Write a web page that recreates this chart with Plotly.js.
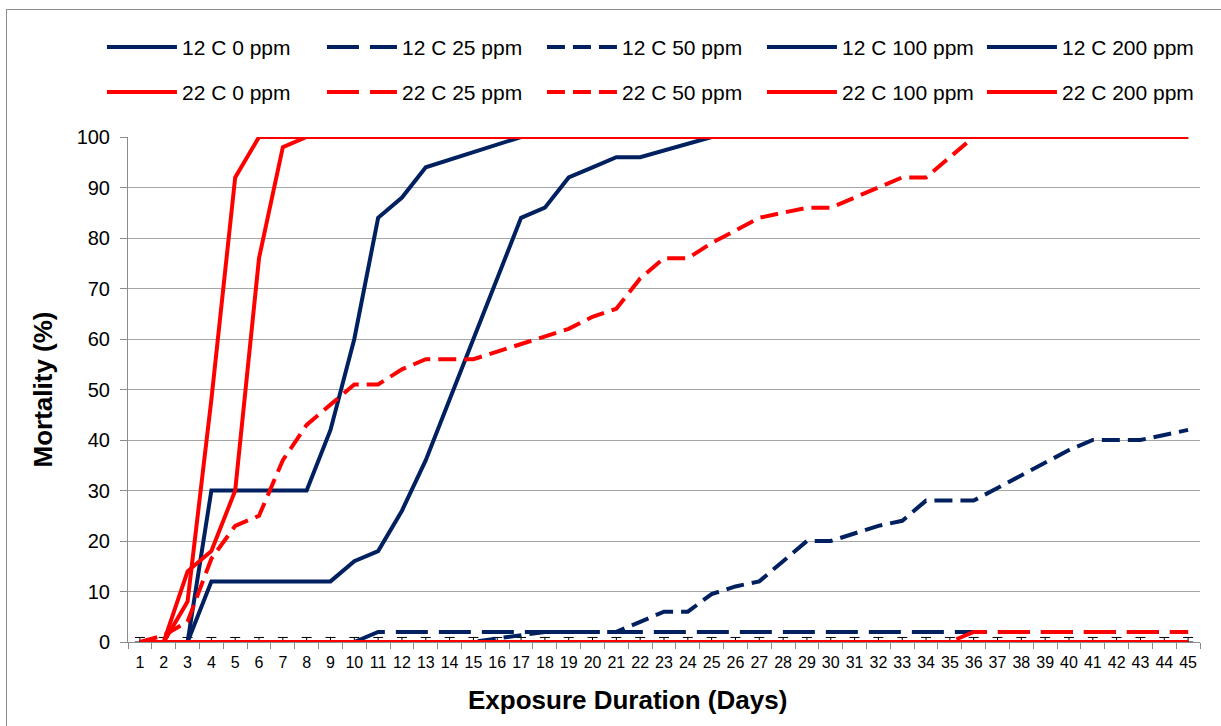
<!DOCTYPE html>
<html>
<head>
<meta charset="utf-8">
<script src="https://cdn.plot.ly/plotly-3.0.1.min.js"></script>
<style>
  html, body { margin: 0; padding: 0; background: #fff; }
  #frame { position: absolute; left: 6px; top: 9px; width: 1240px; height: 740px;
           border-left: 1px solid #8c8c8c; border-top: 1px solid #8c8c8c; pointer-events: none; }
  #chart { position: absolute; left: 0; top: 0; width: 1221px; height: 726px; }
</style>
</head>
<body>
<div id="chart"></div>
<div id="frame"></div>
<script>
// ---- data ----
const days = [1,2,3,4,5,6,7,8,9,10,11,12,13,14,15,16,17,18,19,20,21,22,23,24,25,26,27,28,29,30,31,32,33,34,35,36,37,38,39,40,41,42,43,44,45];
const dayLabels = ["1","2","3","4","5","6","7","8","9","10","11","12","13","14","15","16","17","18","19","20","21","22","23","24","25","26","27","28","29","30","31","32","33","34","35","36","37","38","39","40","41","42","43","44","45"];

const c12_0   = [0,0,0,0,0,0,0,0,0,0,0,0,0,0,0,0,0,0,0,0,0,0,0,0,0,0,0,0,0,0,0,0,0,0,0,0,0,0,0,0,0,0,0,0,0];
const c12_25  = [0,0,0,0,0,0,0,0,0,0,2,2,2,2,2,2,2,2,2,2,2,2,2,2,2,2,2,2,2,2,2,2,2,2,2,2,2,2,2,2,2,2,2,2,2];
const c12_50  = [0,0,0,0,0,0,0,0,0,0,0,0,0,0,0,0.7,1.3,2,2,2,2,4,6,6,9.5,11,12,16,20,20,21.5,23,24,28,28,28,30.5,33,35.5,38,40,40,40,41,42];
const c12_100 = [0,0,0,12,12,12,12,12,12,16,18,26,36,48,60,72,84,86,92,94,96,96,97.3,98.7,100,100,100,100,100,100,100,100,100,100,100,100,100,100,100,100,100,100,100,100,100];
const c12_200 = [0,0,0,30,30,30,30,30,42,60,84,88,94,95.5,97,98.5,100,100,100,100,100,100,100,100,100,100,100,100,100,100,100,100,100,100,100,100,100,100,100,100,100,100,100,100,100];

const c22_0   = [0,0,0,0,0,0,0,0,0,0,0,0,0,0,0,0,0,0,0,0,0,0,0,0,0,0,0,0,0,0,0,0,0,0,0,0,0,0,0,0,0,0,0,0,0];
const c22_25  = [0,0,0,0,0,0,0,0,0,0,0,0,0,0,0,0,0,0,0,0,0,0,0,0,0,0,0,0,0,0,0,0,0,0,0,2,2,2,2,2,2,2,2,2,2];
const c22_50  = [0,1.3,4,16.5,23,25,36,43,47,51,51,54,56,56,56,57.5,59,60.5,62,64.4,66,72,76,76,79,81.5,84,85,86,86,88,90,92,92,96,100,100,100,100,100,100,100,100,100,100];
const c22_100 = [0,0,14,18,30,76,98,100,100,100,100,100,100,100,100,100,100,100,100,100,100,100,100,100,100,100,100,100,100,100,100,100,100,100,100,100,100,100,100,100,100,100,100,100,100];
const c22_200 = [0,0,8,48,92,100,100,100,100,100,100,100,100,100,100,100,100,100,100,100,100,100,100,100,100,100,100,100,100,100,100,100,100,100,100,100,100,100,100,100,100,100,100,100,100];

const errUp   = [0.9,0.9,0.9,0.9,0.9,0.9,0.9,0.9,0.9,0.9,0.9,0.9,0.9,0.9,0.9,0.9,0.9,0.9,0.9,0.9,0.9,0.9,0.9,0.9,0.9,0.9,0.9,0.9,0.9,0.9,0.9,0.9,0.9,0.9,0.9,0.9,0.9,0.9,0.9,0.9,0.9,0.9,0.9,0.9,0.9];
const errDown = [0,0,0,0,0,0,0,0,0,0,0,0,0,0,0,0,0,0,0,0,0,0,0,0,0,0,0,0,0,0,0,0,0,0,0,0,0,0,0,0,0,0,0,0,0];

const yTicks = [0,10,20,30,40,50,60,70,80,90,100];
const bounds = [0.5,1.5,2.5,3.5,4.5,5.5,6.5,7.5,8.5,9.5,10.5,11.5,12.5,13.5,14.5,15.5,16.5,17.5,18.5,19.5,20.5,21.5,22.5,23.5,24.5,25.5,26.5,27.5,28.5,29.5,30.5,31.5,32.5,33.5,34.5,35.5,36.5,37.5,38.5,39.5,40.5,41.5,42.5,43.5,44.5,45.5];

const xTitle = 'Exposure Duration (Days)';
const yTitle = 'Mortality (%)';

// ---- styles ----
const NAVY = '#002060', RED = '#ff0000';
const LW = 4;
const LONG = '32px,11px', SHORT = '18px,8px';
const FONT = 'Liberation Sans, Arial, sans-serif';

function tr(name, y, color, dash, legend, extra) {
  return Object.assign({
    type: 'scatter', mode: 'lines', name: name, x: days, y: y,
    line: {color: color, width: LW, dash: dash},
    legend: legend, hoverinfo: 'x+y+name'
  }, extra || {});
}

const data = [
  tr('12 C 0 ppm', c12_0, NAVY, 'solid', 'legend', {
    error_y: {type: 'data', symmetric: false, array: errUp, arrayminus: errDown,
              color: '#000', thickness: 1, width: 5}
  }),
  tr('12 C 25 ppm', c12_25, NAVY, LONG, 'legend'),
  tr('12 C 50 ppm', c12_50, NAVY, SHORT, 'legend'),
  tr('12 C 100 ppm', c12_100, NAVY, 'solid', 'legend'),
  tr('12 C 200 ppm', c12_200, NAVY, 'solid', 'legend'),
  tr('22 C 0 ppm', c22_0, RED, 'solid', 'legend2'),
  tr('22 C 25 ppm', c22_25, RED, LONG, 'legend2'),
  tr('22 C 50 ppm', c22_50, RED, SHORT, 'legend2'),
  tr('22 C 100 ppm', c22_100, RED, 'solid', 'legend2'),
  tr('22 C 200 ppm', c22_200, RED, 'solid', 'legend2')
];

const legendBase = {
  orientation: 'h', xref: 'paper', yref: 'paper', x: -0.0243, xanchor: 'left',
  yanchor: 'top', itemwidth: 70, entrywidth: 135, entrywidthmode: 'pixels',
  font: {family: FONT, size: 21, color: '#000'}, bgcolor: 'rgba(0,0,0,0)',
  borderwidth: 0, traceorder: 'normal'
};

const layout = {
  width: 1221, height: 726,
  margin: {l: 128, r: 21, t: 137, b: 84, autoexpand: false},
  paper_bgcolor: '#fff', plot_bgcolor: '#fff',
  font: {family: FONT, color: '#000'},
  showlegend: true,
  legend: Object.assign({}, legendBase, {y: 1.218}),
  legend2: Object.assign({}, legendBase, {y: 1.129}),
  xaxis: {
    range: [0.5, 45.5], tickmode: 'array', tickvals: days, ticktext: dayLabels,
    ticks: '', showgrid: false, zeroline: false,
    showline: true, linecolor: '#8c8c8c', linewidth: 1,
    tickfont: {family: FONT, size: 16, color: '#000'}, ticklabelstandoff: 6,
    minor: {tickmode: 'array', tickvals: bounds, ticks: 'outside', ticklen: 6,
            tickcolor: '#8c8c8c', tickwidth: 1, showgrid: false},
    fixedrange: true
  },
  yaxis: {
    range: [0, 100], tickmode: 'array', tickvals: yTicks,
    ticks: 'outside', ticklen: 7, tickcolor: '#8c8c8c', tickwidth: 1,
    showgrid: true, gridcolor: '#a6a6a6', gridwidth: 1, zeroline: false,
    showline: true, linecolor: '#8c8c8c', linewidth: 1,
    tickfont: {family: FONT, size: 20, color: '#000'}, ticklabelstandoff: 6,
    title: {text: yTitle, standoff: 16,
            font: {family: FONT, size: 26, weight: 'bold', color: '#000'}},
    fixedrange: true
  },
  annotations: [{
    text: xTitle, xref: 'paper', yref: 'paper', x: 0.4664, y: -0.115,
    xanchor: 'center', yanchor: 'middle', showarrow: false,
    font: {family: FONT, size: 26, weight: 'bold', color: '#000'}
  }]
};

Plotly.newPlot('chart', data, layout, {displayModeBar: false, staticPlot: true});
</script>
</body>
</html>
